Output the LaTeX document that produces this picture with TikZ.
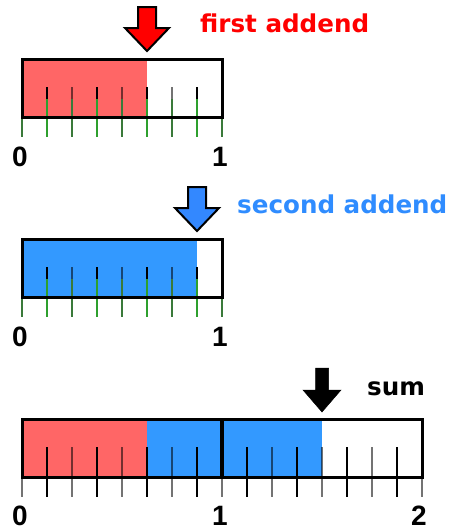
\documentclass[tikz,border=0pt]{standalone}
\usepackage{fontspec}
\setmainfont{DejaVu Sans}
\newfontfamily\digitfont{Liberation Sans}
\definecolor{fillred}{HTML}{FF6666}
\definecolor{fillblue}{HTML}{3399FF}
\definecolor{arrred}{HTML}{FF0000}
\definecolor{arrblue}{HTML}{3388FF}
\definecolor{txtblue}{HTML}{2F8CFF}
\definecolor{tickgreen}{HTML}{2EA02E}
\definecolor{tickdkgreen}{HTML}{3A7A3A}
\tikzset{
  downarrow/.pic={\path[pic actions] (0,0) -- (-22,-23) -- (-9,-23) -- (-9,-44) -- (9,-44) -- (9,-23) -- (22,-23) -- cycle;},
  blackarrow/.pic={\path[pic actions] (0,0) -- (-19,-22) -- (-6.5,-22) -- (-6.5,-44) -- (6.5,-44) -- (6.5,-22) -- (19,-22) -- cycle;},
  barframe/.style={draw=black, line width=3},
  oddtick/.style={black, line width=1.5},
  eventick/.style={black, opacity=0.55, line width=2.8},
  oddgreen/.style={tickgreen, line width=1.5},
  evengreen/.style={tickdkgreen, line width=2.8},
  biglabel/.style={font=\fontsize{24.6}{28}\selectfont\bfseries, inner sep=0pt},
  digit/.style={font=\digitfont\fontsize{28}{32}\selectfont\bfseries, inner sep=0pt, anchor=base},
}
\begin{document}
\begin{tikzpicture}[x=1pt,y=-1pt]
\useasboundingbox (0,0) rectangle (454,531);

% ---------- bar 1 ----------
\fill[fillred] (22,59) rectangle (147,117);
\foreach \i in {0,...,8}{
  \pgfmathtruncatemacro{\r}{mod(\i,2)}
  \pgfmathsetmacro{\xx}{22+25*\i}
  \ifnum\r=0 \draw[evengreen] (\xx,99) -- (\xx,137); \else \draw[oddgreen] (\xx,99) -- (\xx,137); \fi
}
\foreach \i in {1,...,7}{
  \pgfmathtruncatemacro{\r}{mod(\i,2)}
  \pgfmathsetmacro{\xx}{22+25*\i}
  \ifnum\r=0 \draw[eventick] (\xx,87) -- (\xx,99); \else \draw[oddtick] (\xx,87) -- (\xx,99); \fi
}
\draw[barframe] (22,59) rectangle (222,117);
\pic[fill=arrred, draw=black, line width=2, line join=miter] at (147,51) {downarrow};
\node[biglabel, text=arrred, anchor=base west] (t1) at (200,32) {first addend};
\node[digit] (a0) at (20,166) {0};
\node[digit] (a1) at (220,166) {1};

% ---------- bar 2 ----------
\fill[fillblue] (22,239) rectangle (197,297);
\foreach \i in {0,...,8}{
  \pgfmathtruncatemacro{\r}{mod(\i,2)}
  \pgfmathsetmacro{\xx}{22+25*\i}
  \ifnum\r=0 \draw[evengreen] (\xx,279) -- (\xx,317); \else \draw[oddgreen] (\xx,279) -- (\xx,317); \fi
}
\foreach \i in {1,...,7}{
  \pgfmathtruncatemacro{\r}{mod(\i,2)}
  \pgfmathsetmacro{\xx}{22+25*\i}
  \ifnum\r=0 \draw[eventick] (\xx,267) -- (\xx,279); \else \draw[oddtick] (\xx,267) -- (\xx,279); \fi
}
\draw[barframe] (22,239) rectangle (222,297);
\pic[fill=arrblue, draw=black, line width=2, line join=miter] at (197,231) {downarrow};
\node[biglabel, text=txtblue, anchor=base west, font=\fontsize{24.6}{28}\selectfont\bfseries] (t2) at (237,213) {second addend};
\node[digit] (b0) at (20,346) {0};
\node[digit] (b1) at (220,346) {1};

% ---------- bar 3 ----------
\fill[fillred] (22,419) rectangle (147,477);
\fill[fillblue] (147,419) rectangle (322,477);
\foreach \i in {1,...,15}{
  \pgfmathtruncatemacro{\r}{mod(\i,2)}
  \pgfmathsetmacro{\xx}{22+25*\i}
  \ifnum\i=8 \else
  \ifnum\r=0 \draw[eventick] (\xx,447) -- (\xx,477); \else \draw[oddtick] (\xx,447) -- (\xx,477); \fi
  \fi
}
\foreach \i in {0,...,16}{
  \pgfmathtruncatemacro{\r}{mod(\i,2)}
  \pgfmathsetmacro{\xx}{22+25*\i}
  \ifnum\r=0 \draw[eventick] (\xx,477) -- (\xx,497); \else \draw[oddtick] (\xx,477) -- (\xx,497); \fi
}
\draw[black, line width=3.5] (222,419) -- (222,477);
\draw[barframe] (22,419) rectangle (422,477);
\pic[fill=black, draw=black, line width=0.5, line join=miter] at (322,412) {blackarrow};
\node[biglabel, text=black, anchor=base west] (t3) at (367,395) {sum};
\node[digit] (c0) at (20,525) {0};
\node[digit] (c1) at (220,525) {1};
\node[digit] (c2) at (419,525) {2};
\end{tikzpicture}
\end{document}
